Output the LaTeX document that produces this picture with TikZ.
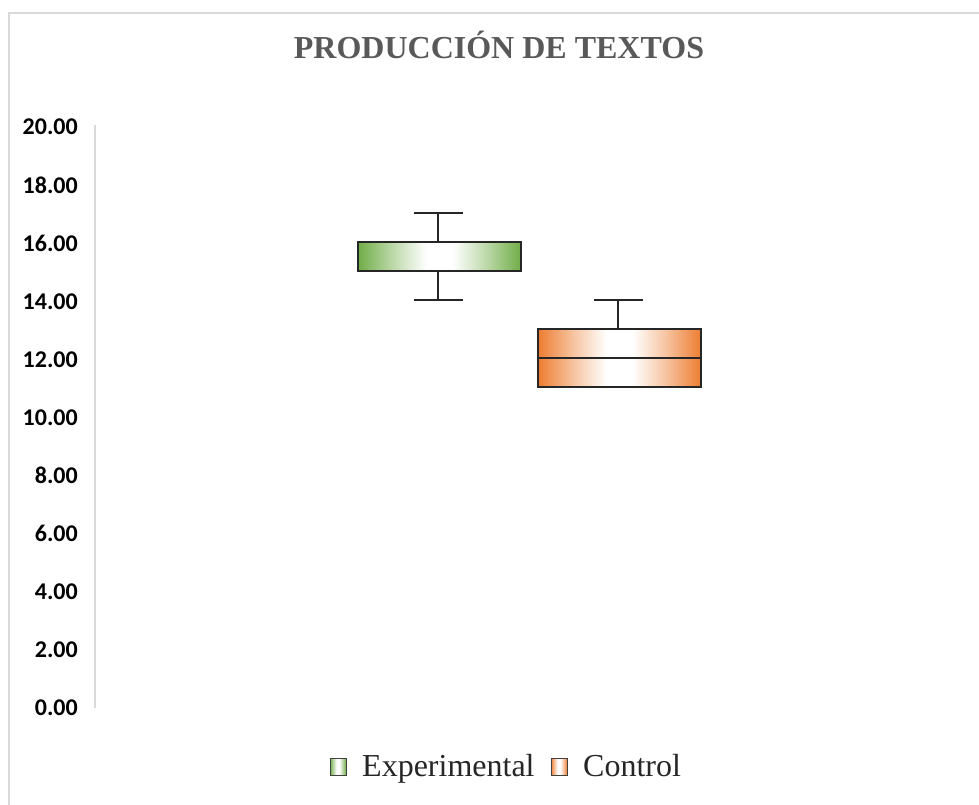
\documentclass[tikz,border=0pt]{standalone}
\usepackage{fontspec}
\setmainfont{Liberation Serif}
\newfontfamily\carl{Carlito}
\definecolor{exgreen}{RGB}{112,173,71}
\definecolor{ctorange}{RGB}{237,125,49}
\definecolor{gridgray}{RGB}{217,217,217}
\definecolor{titlegray}{RGB}{89,89,89}
\pgfdeclarehorizontalshading{greenh}{100bp}{color(0bp)=(exgreen); color(25bp)=(exgreen); color(36bp)=(exgreen!45!white); color(46bp)=(white); color(54bp)=(white); color(64bp)=(exgreen!45!white); color(75bp)=(exgreen); color(100bp)=(exgreen)}
\pgfdeclarehorizontalshading{orangeh}{100bp}{color(0bp)=(ctorange); color(25bp)=(ctorange); color(36bp)=(ctorange!45!white); color(46bp)=(white); color(54bp)=(white); color(64bp)=(ctorange!45!white); color(75bp)=(ctorange); color(100bp)=(ctorange)}
\tikzset{
  boxline/.style={draw=black!85, line width=1.6pt},
  whisk/.style={draw=black!85, line width=1.6pt},
  greenfill/.style={shading=greenh},
  orangefill/.style={shading=orangeh},
  ticklab/.style={anchor=east, font=\carl\bfseries\fontsize{24}{24}\selectfont, text=black, inner sep=0pt},
  legtext/.style={anchor=base west, font=\fontsize{32}{32}\selectfont, text=black!85, inner sep=0pt},
}
\begin{document}
\begin{tikzpicture}[x=1pt,y=-1pt]
\useasboundingbox (0,0) rectangle (979,805);
\fill[white] (0,0) rectangle (979,805);
% chart frame
\draw[gridgray, line width=1.5pt] (9,806) -- (9,13) -- (980,13);
% title
\node[font=\bfseries\fontsize{32}{32}\selectfont, text=titlegray] (title) at (499,45) {PRODUCCIÓN DE TEXTOS};
% axis
\coordinate (axtop) at (95,125);
\coordinate (axbot) at (95,708);
\draw[gridgray, line width=1.5pt] (axtop) -- (axbot);
% tick labels
\foreach \v [count=\i] in {0,2,...,20}{
  \node[ticklab] (t\i) at (78,{708-29.05*\v}) {\v.00};
}
% Experimental box
\coordinate (eTop) at (438,213);
\coordinate (eQ3) at (438,242);
\coordinate (eQ1) at (438,271);
\coordinate (eBot) at (438,300);
\draw[whisk] (eTop) -- (eQ3);
\draw[whisk] (eQ1) -- (eBot);
\draw[whisk] (414,213) -- (463,213);
\draw[whisk] (414,300) -- (463,300);
\path[greenfill] (358,242) rectangle (521,271);
\draw[boxline] (358,242) rectangle (521,271);
% Control box
\coordinate (cTop) at (618,300);
\coordinate (cQ3) at (618,329);
\draw[whisk] (cTop) -- (cQ3);
\draw[whisk] (594,300) -- (643,300);
\path[orangefill] (538,329) rectangle (701,387);
\draw[boxline] (538,329) rectangle (701,387);
\draw[boxline] (538,358) -- (701,358);
% legend
\path[greenfill] (330,758) rectangle (346,775);
\draw[draw=black!75, line width=1pt] (330,758) rectangle (346,775);
\node[legtext] (lex) at (362,776) {Experimental};
\path[orangefill] (551,758) rectangle (567,775);
\draw[draw=black!75, line width=1pt] (551,758) rectangle (567,775);
\node[legtext] (lct) at (583,776) {Control};
\end{tikzpicture}
\end{document}
